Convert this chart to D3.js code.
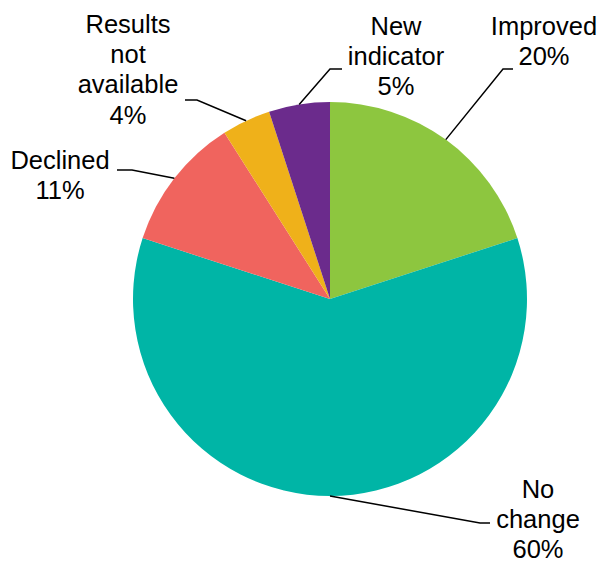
<!DOCTYPE html>
<html>
<head>
<meta charset="utf-8">
<script src="https://cdn.jsdelivr.net/npm/d3@7"></script>
<style>
  html, body { margin: 0; padding: 0; background: #fff; }
  svg { display: block; }
</style>
</head>
<body>
<svg id="chart" width="604" height="563"></svg>
<script>
// Share of indicators by result status (percent)
const categories = ["Improved", "No change", "Declined", "Results not available", "New indicator"];
const values = [20, 60, 11, 4, 5];
const labelLines = [
  ["Improved"],
  ["No", "change"],
  ["Declined"],
  ["Results", "not", "available"],
  ["New", "indicator"]
];
const colors = ["#8DC63F", "#00B5A6", "#F0645E", "#EFB11A", "#6B2B8C"];

const svg = d3.select("#chart");
const cx = 330, cy = 299, radius = 197;
const fontSize = 25.5, lineGap = 30.2;

// Label placement: elbow of the leader, end of its short horizontal tail,
// text centre and first baseline (all in page pixels).
const labelLayout = [
  { elbow: [503, 69],  tail: 513, tx: 544, ty: 35 },
  { elbow: [480, 523], tail: 490, tx: 538, ty: 498 },
  { elbow: [132, 170], tail: 117, tx: 60,  ty: 169 },
  { elbow: [197, 100], tail: 185, tx: 128, ty: 33 },
  { elbow: [330, 69],  tail: 342, tx: 396, ty: 35 }
];

const pie = d3.pie().sort(null).value(d => d)(values);
const arc = d3.arc().innerRadius(0).outerRadius(radius);

const g = svg.append("g").attr("transform", `translate(${cx},${cy})`);
g.selectAll("path.slice")
  .data(pie)
  .join("path")
  .attr("class", "slice")
  .attr("d", arc)
  .attr("fill", (d, i) => colors[i]);

// Leader lines start at the slice's mid-angle on the rim
const leaders = svg.append("g");
pie.forEach((d, i) => {
  const a = (d.startAngle + d.endAngle) / 2;
  const sx = cx + radius * Math.sin(a);
  const sy = cy - radius * Math.cos(a);
  const L = labelLayout[i];
  leaders.append("polyline")
    .attr("points", [[sx, sy], L.elbow, [L.tail, L.elbow[1]]].map(p => p.join(",")).join(" "))
    .attr("fill", "none")
    .attr("stroke", "#000")
    .attr("stroke-width", 1.5);

  const lines = labelLines[i].concat([d3.format(".0f")(values[i]) + "%"]);
  const t = svg.append("text")
    .attr("text-anchor", "middle")
    .attr("font-family", "Liberation Sans, Arial, sans-serif")
    .attr("font-size", fontSize)
    .attr("fill", "#000");
  lines.forEach((s, k) => {
    t.append("tspan").attr("x", L.tx).attr("y", L.ty + k * lineGap).text(s);
  });
});
</script>
</body>
</html>
